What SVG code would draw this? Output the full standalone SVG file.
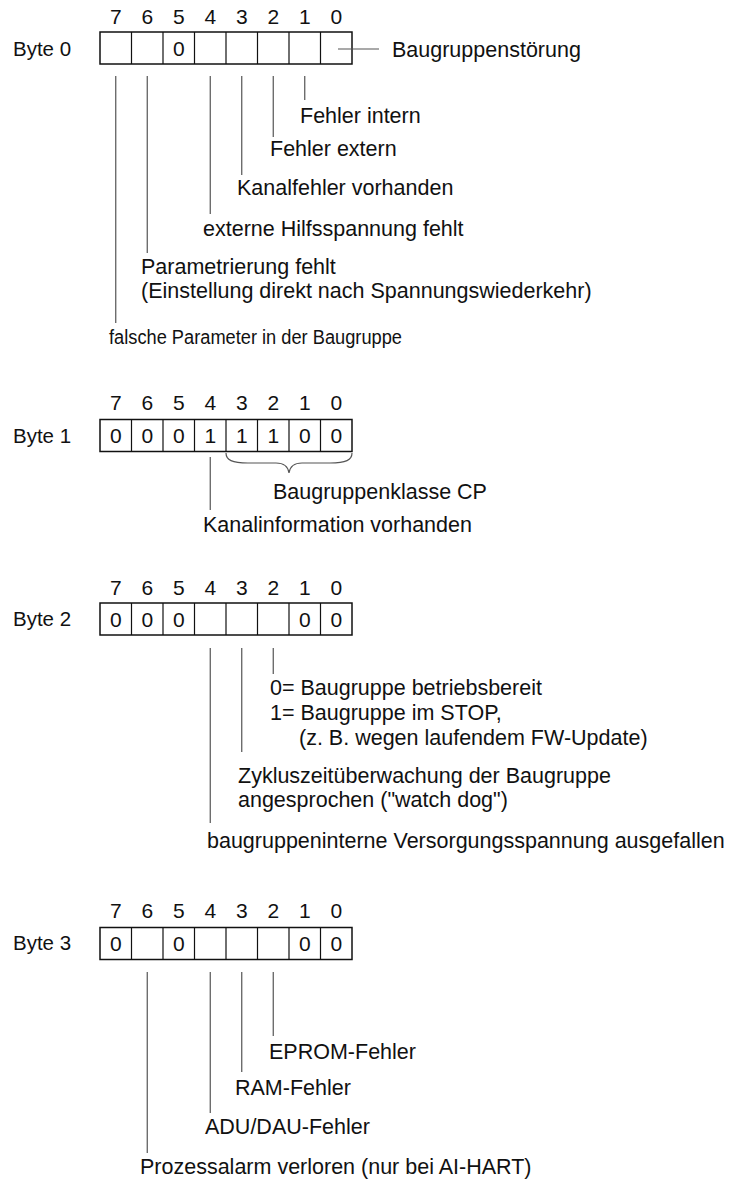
<svg xmlns="http://www.w3.org/2000/svg" width="730" height="1183" viewBox="0 0 730 1183">
<style>
text{font-family:"Liberation Sans",Arial,sans-serif;font-size:21.5px;fill:#111}
.n{font-size:21px;text-anchor:middle}
.b{font-size:20.5px}
.box{fill:#fff;stroke:#111;stroke-width:1.5}
.cell{stroke:#111;stroke-width:1.2}
.ln{stroke:#555;stroke-width:1.2;fill:none}
</style>
<rect width="730" height="1183" fill="#fff"/>
<defs>
<g id="grid">
<rect class="box" x="100" y="0" width="252" height="32"/>
<path class="cell" d="M131.5 0V32M163 0V32M194.5 0V32M226 0V32M257.5 0V32M289 0V32M320.5 0V32"/>
</g>
<g id="nums">
<text class="n" x="115.75" y="0">7</text><text class="n" x="147.25" y="0">6</text><text class="n" x="178.75" y="0">5</text><text class="n" x="210.25" y="0">4</text><text class="n" x="241.75" y="0">3</text><text class="n" x="273.25" y="0">2</text><text class="n" x="304.75" y="0">1</text><text class="n" x="336.25" y="0">0</text>
</g>
</defs>

<g id="byte0">
<text class="b" x="13" y="56">Byte 0</text>
<use href="#nums" y="24"/>
<use href="#grid" y="32"/>
<text class="n" x="178.75" y="55.5">0</text>
</g>

<g id="byte1">
<text class="b" x="13" y="443">Byte 1</text>
<use href="#nums" y="409.5"/>
<use href="#grid" y="419.5"/>
<text class="n" x="115.75" y="443">0</text><text class="n" x="147.25" y="443">0</text><text class="n" x="178.75" y="443">0</text><text class="n" x="210.25" y="443">1</text><text class="n" x="241.75" y="443">1</text><text class="n" x="273.25" y="443">1</text><text class="n" x="304.75" y="443">0</text><text class="n" x="336.25" y="443">0</text>
</g>

<g id="byte2">
<text class="b" x="13" y="626">Byte 2</text>
<use href="#nums" y="595"/>
<use href="#grid" y="603"/>
<text class="n" x="115.75" y="626.5">0</text><text class="n" x="147.25" y="626.5">0</text><text class="n" x="178.75" y="626.5">0</text><text class="n" x="304.75" y="626.5">0</text><text class="n" x="336.25" y="626.5">0</text>
</g>

<g id="byte3">
<text class="b" x="13" y="950">Byte 3</text>
<use href="#nums" y="918"/>
<use href="#grid" y="927.5"/>
<text class="n" x="115.75" y="951">0</text><text class="n" x="178.75" y="951">0</text><text class="n" x="304.75" y="951">0</text><text class="n" x="336.25" y="951">0</text>
</g>

<g id="connectors">
<path class="ln" d="M338 49H379"/>
<path class="ln" d="M304.75 76V100M273.25 76V137M241.75 76V175M210.25 76V214M147.25 76V253M115.75 76V323"/>
<path class="ln" d="M210.25 457V510"/>
<path class="ln" d="M226 453C226 460 232 463 248 463H276C284 463 288 466 289 473C290 466 294 463 302 463H330C346 463 352 460 352 453"/>
<path class="ln" d="M273.25 648V674M241.75 648V752M210.25 648V823"/>
<path class="ln" d="M273.25 972V1036M241.75 972V1072M210.25 972V1113M147.25 972V1153"/>
</g>

<g id="labels">
<text x="392" y="57">Baugruppenstörung</text>
<text x="300" y="123">Fehler intern</text>
<text x="270" y="156">Fehler extern</text>
<text x="237" y="195">Kanalfehler vorhanden</text>
<text x="203" y="236">externe Hilfsspannung fehlt</text>
<text x="141" y="274">Parametrierung fehlt</text>
<text x="141" y="298">(Einstellung direkt nach Spannungswiederkehr)</text>
<text x="109" y="344" style="font-size:20px" textLength="293" lengthAdjust="spacingAndGlyphs">falsche Parameter in der Baugruppe</text>
<text x="273" y="499">Baugruppenklasse CP</text>
<text x="203" y="532">Kanalinformation vorhanden</text>
<text x="270" y="695">0= Baugruppe betriebsbereit</text>
<text x="270" y="720">1= Baugruppe im STOP,</text>
<text x="299" y="745">(z. B. wegen laufendem FW-Update)</text>
<text x="238" y="783">Zykluszeitüberwachung der Baugruppe</text>
<text x="238" y="807">angesprochen ("watch dog")</text>
<text x="207" y="848">baugruppeninterne Versorgungsspannung ausgefallen</text>
<text x="269" y="1059">EPROM-Fehler</text>
<text x="235" y="1095">RAM-Fehler</text>
<text x="205" y="1134">ADU/DAU-Fehler</text>
<text x="140" y="1174">Prozessalarm verloren (nur bei AI-HART)</text>
</g>
</svg>
